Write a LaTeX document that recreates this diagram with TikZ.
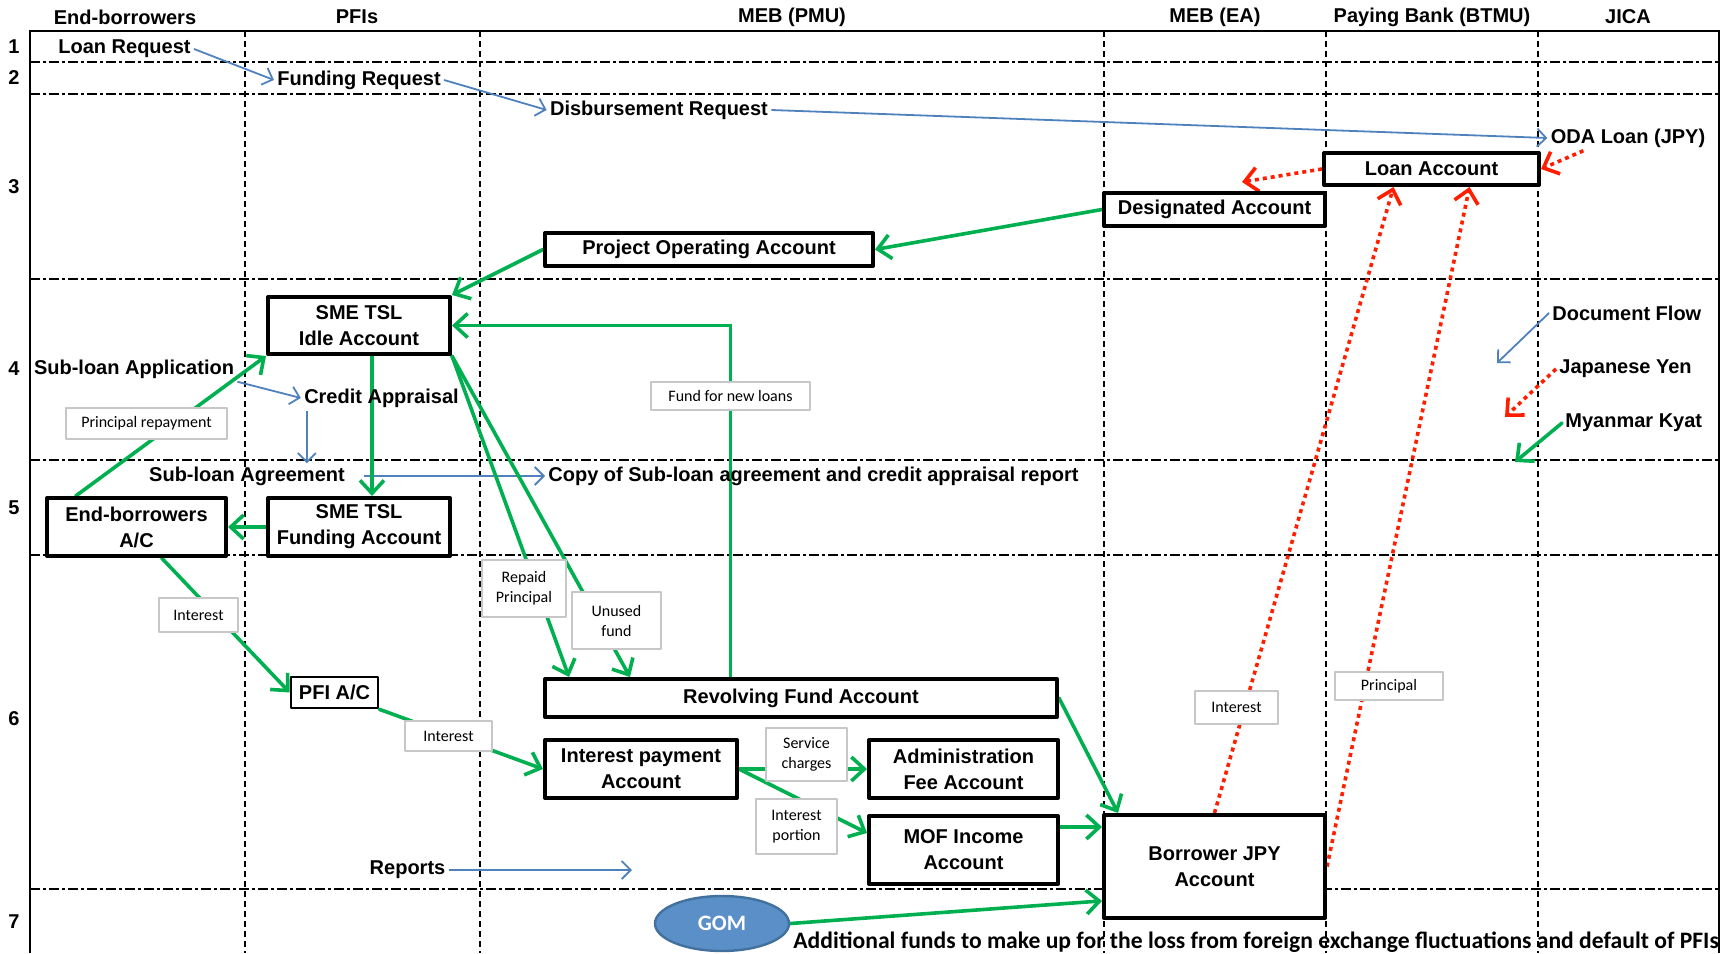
\documentclass[tikz,border=0pt]{standalone}
\usepackage{fontspec}
\setmainfont{Liberation Sans}
\newfontfamily\lblfont{Carlito}
\usetikzlibrary{arrows.meta,backgrounds,shapes.geometric}
\definecolor{kyatgreen}{RGB}{0,176,80}
\definecolor{docblue}{RGB}{79,129,189}
\definecolor{yenred}{RGB}{255,30,0}
\definecolor{gomfill}{RGB}{91,143,199}
\definecolor{gomline}{RGB}{65,113,156}
\tikzset{
	acct/.style={draw, line width=2pt, fill=white, align=center, inner sep=0pt, font=\bfseries\fontsize{10}{13}\selectfont},
	lbl/.style={draw=black!22, line width=0.8pt, fill=white, align=center, inner sep=0pt, font=\lblfont\fontsize{8}{10}\selectfont},
	txt/.style={font=\bfseries\fontsize{10}{12}\selectfont, inner sep=1.5pt},
	docflow/.style={docblue, line width=0.9pt, -{Straight Barb[length=4.5pt,width=9pt]}},
	kyatflow/.style={kyatgreen, line width=1.8pt, line cap=round, -{Straight Barb[length=6.5pt,width=12pt]}},
	yenflow/.style={yenred, line width=1.8pt, dash pattern=on 2pt off 2pt, -{Straight Barb[length=6.5pt,width=12pt]}},
	hgrid/.style={line width=1pt, dash pattern=on 5pt off 1.5pt on 1.5pt off 1.5pt},
	vgrid/.style={line width=0.9pt, dash pattern=on 3pt off 2pt}
}
\begin{document}
\begin{tikzpicture}[x=0.5pt, y=-0.5pt, line join=round]
	\useasboundingbox (0,0) rectangle (1729,953);
	% lanes and rows
	\foreach \name/\x/\t in {hEnd/125/End-borrowers, hPfi/357/PFIs, hPmu/792/MEB (PMU), hEa/1215/MEB (EA), hBank/1432/Paying Bank (BTMU), hJica/1628/JICA}
		\node[txt] (\name) at (\x,17) {\t};
	\foreach \n/\y in {1/47,2/78,3/187,4/369,5/508,6/719,7/922}
		\node[txt] (row\n) at (14,\y) {\n};
	% accounts
	\node[acct, minimum width=107.5pt, minimum height=16pt] (loanacc) at (1431.5,169) {Loan Account};
	\node[acct, minimum width=110.5pt, minimum height=16.5pt] (desig) at (1214.5,209.5) {Designated Account};
	\node[acct, minimum width=164pt, minimum height=16.5pt] (poa) at (709,249.5) {Project Operating Account};
	\node[acct, minimum width=91pt, minimum height=28.5pt] (idle) at (359,325.5) {SME TSL\\Idle Account};
	\node[acct, minimum width=91pt, minimum height=29pt] (fund) at (359,527) {SME TSL\\Funding Account};
	\node[acct, minimum width=89.5pt, minimum height=29pt] (endac) at (136.5,527) {End-borrowers\\A/C};
	\node[acct, line width=1.3pt, minimum width=43.5pt, minimum height=15.5pt] (pfiac) at (334.5,692.5) {PFI A/C};
	\node[acct, minimum width=256pt, minimum height=19pt] (revolve) at (801,698) {Revolving Fund Account};
	\node[acct, minimum width=96pt, minimum height=29pt] (intpay) at (641,769) {Interest payment\\Account};
	\node[acct, minimum width=94.5pt, minimum height=29pt] (admin) at (963.5,769) {Administration\\Fee Account};
	\node[acct, minimum width=94.5pt, minimum height=34pt] (mof) at (963.5,850) {MOF Income\\Account};
	\node[acct, minimum width=110.5pt, minimum height=51.5pt] (jpy) at (1214.5,866.5) {Borrower JPY\\Account};
	\node[ellipse, draw=gomline, fill=gomfill, line width=1.2pt, minimum width=67pt, minimum height=27.5pt, text=white, font=\lblfont\bfseries\fontsize{11}{13}\selectfont] (gom) at (722,923.5) {GOM};
	% documents and notes
	\node[txt] (loanreq) at (124.5,49) {Loan Request};
	\node[txt] (fundreq) at (359,80) {Funding Request};
	\node[txt] (disbreq) at (659,110) {Disbursement Request};
	\node[txt] (oda) at (1628,138) {ODA Loan (JPY)};
	\node[txt] (subapp) at (134,369) {Sub-loan Application};
	\node[txt] (credit) at (381.5,398) {Credit Appraisal};
	\node[txt] (subagr) at (247,476) {Sub-loan Agreement};
	\node[txt, anchor=west] (copy) at (545,476) {Copy of Sub-loan agreement and credit appraisal report};
	\node[txt] (reports) at (407.5,870) {Reports};
	\node[txt, anchor=west, font=\lblfont\bfseries\fontsize{11.8}{13}\selectfont] (addfund) at (790,942) {Additional funds to make up for the loss from foreign exchange fluctuations and default of PFIs};
	\node[txt, anchor=west] (docflow) at (1549,313) {Document Flow};
	\node[txt, anchor=west] (yen) at (1556,369) {Japanese Yen};
	\node[txt, anchor=west] (myk) at (1562,423) {Myanmar Kyat};
	\coordinate (repend) at (632,870);
	\coordinate (docend) at (1497,363);
	\coordinate (yenend) at (1505,417);
	\coordinate (kyatend) at (1515,462);
	\coordinate (laleft) at (1242,182);
	% labels on the flows
	\node[lbl, minimum width=80.5pt, minimum height=15.5pt] (lblPrin) at (146.5,423.5) {Principal repayment};
	\node[lbl, minimum width=79.5pt, minimum height=14pt] (lblFund) at (730.5,396) {Fund for new loans};
	\node[lbl, minimum width=42pt, minimum height=28.5pt] (lblRepaid) at (524,588.5) {Repaid\\Principal};
	\node[lbl, minimum width=44.5pt, minimum height=28.5pt] (lblUnused) at (616.5,620.5) {Unused\\fund};
	\node[lbl, minimum width=39.5pt, minimum height=17pt] (lblIntA) at (198.5,615) {Interest};
	\node[lbl, minimum width=43.5pt, minimum height=15pt] (lblIntB) at (448.5,736) {Interest};
	\node[lbl, minimum width=40.5pt, minimum height=26.5pt] (lblServ) at (806.5,754.5) {Service\\charges};
	\node[lbl, minimum width=40.5pt, minimum height=27.5pt] (lblPortion) at (796.5,826.5) {Interest\\portion};
	\node[lbl, minimum width=41.5pt, minimum height=16.5pt] (lblIntC) at (1236.5,707.5) {Interest};
	\node[lbl, minimum width=54pt, minimum height=14pt] (lblPrinc) at (1389,686) {Principal};
	\begin{scope}[on background layer]
		\draw[line width=1pt] (30,953) -- (30,31) -- (1719,31) -- (1719,953);
		\foreach \y in {62,94,279,460,555,889} \draw[hgrid] (30,\y) -- (1719,\y);
		\foreach \x in {245,480,1104,1326,1538} \draw[vgrid] (\x,31) -- (\x,953);
		% document flow
		\draw[docflow] (loanreq.east) -- (fundreq.west);
		\draw[docflow] (fundreq.east) -- (disbreq.west);
		\draw[docflow] (disbreq.east) -- (oda.west);
		\draw[docflow] (subapp.south east) -- (credit.west);
		\draw[docflow] ([xshift=3pt]credit.south west) -- ([xshift=3pt]credit.south west |- subagr.north);
		\draw[docflow] ([xshift=8pt]subagr.east) -- (copy.west);
		\draw[docflow] (reports.east) -- (repend);
		\draw[docflow] (docflow.west) -- (docend);
		% yen
		\draw[yenflow] ([xshift=18pt]oda.south west) -- (loanacc.east);
		\draw[yenflow] (loanacc.west) -- (laleft);
		\draw[yenflow] (jpy.north) -- ([xshift=-19pt]loanacc.south);
		\draw[yenflow] (jpy.east) -- ([xshift=19pt]loanacc.south);
		\draw[yenflow] (yen.west) -- (yenend);
		% kyat
		\draw[kyatflow] (desig.west) -- (poa.east);
		\draw[kyatflow] (poa.west) -- (idle.north east);
		\draw[kyatflow] (revolve.north -| lblFund.center) |- (idle.east);
		\draw[kyatflow] ([xshift=6.5pt]idle.south) -- ([xshift=6.5pt]fund.north);
		\draw[kyatflow] (fund.west) -- (endac.east);
		\draw[kyatflow] (endac.153) -- (idle.south west);
		\draw[kyatflow] (idle.south east) -- ([xshift=13pt]revolve.north west);
		\draw[kyatflow] (idle.south east) -- ([xshift=43.5pt]revolve.north west);
		\draw[kyatflow] (endac.-51) -- (pfiac.west);
		\draw[kyatflow] (pfiac.south east) -- (intpay.west);
		\draw[kyatflow] (intpay.east) -- (admin.west);
		\draw[kyatflow] (intpay.east) -- (mof.170);
		\draw[kyatflow] ([yshift=11.5pt]mof.east) -- ([yshift=11.5pt]mof.east -| jpy.west);
		\draw[kyatflow] (revolve.east) -- ([xshift=8pt]jpy.north west);
		\draw[kyatflow] (gom.east) -- (jpy.-163);
		\draw[kyatflow] (myk.west) -- (kyatend);
	\end{scope}
\end{tikzpicture}
\end{document}
